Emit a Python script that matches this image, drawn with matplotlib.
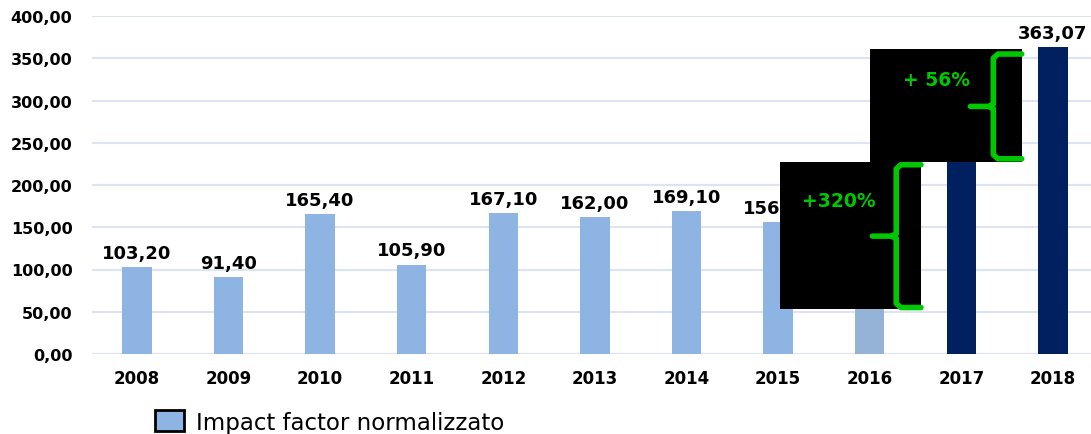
import matplotlib.pyplot as plt
from matplotlib.patches import Rectangle, Patch

years = ['2008', '2009', '2010', '2011', '2012', '2013', '2014', '2015', '2016', '2017', '2018']
values = [103.20, 91.40, 165.40, 105.90, 167.10, 162.00, 169.10, 156.30, 86.40, 232.70, 363.07]
colors = ['#8DB4E2'] * 8 + ['#95B3D7', '#002060', '#002060']
y_ticks = [0, 50, 100, 150, 200, 250, 300, 350, 400]

fig = plt.figure(figsize=(10.91, 4.35), dpi=100)
ax = fig.add_axes([92 / 1091, 80 / 435, 1003 / 1091, 338 / 435])

x = list(range(len(years)))
ax.bar(x, values, width=0.32, color=colors, zorder=2)

# value labels (comma decimals)
for xi, v in zip(x, values):
    ax.text(xi, v + 6, f'{v:.2f}'.replace('.', ','), ha='center', va='bottom',
            fontsize=13, fontweight='bold', zorder=3)

ax.set_xlim(-0.49, 10.46)
ax.set_ylim(0, 400)
ax.set_xticks(x)
ax.set_xticklabels(years, fontsize=12, fontweight='bold')
ax.set_yticks(y_ticks)
ax.set_yticklabels([f'{t:.2f}'.replace('.', ',') for t in y_ticks], fontsize=11.5, fontweight='bold')
ax.tick_params(length=0)
ax.tick_params(axis='x', pad=11)
ax.tick_params(axis='y', pad=14)
for s in ax.spines.values():
    s.set_visible(False)
ax.grid(axis='y', color='#DCE4F2', linewidth=1.5, zorder=0)
ax.axhline(0, color='#D9D9D9', linewidth=1.5, zorder=1)

# black callout boxes with green braces
green = '#00C800'
ax.add_patch(Rectangle((7.02, 53.3), 1.54, 173.9, facecolor='black', zorder=5))
ax.add_patch(Rectangle((8.0, 227.2), 1.66, 134.0, facecolor='black', zorder=5))


def brace(xv, xr, xt, y0, y1):
    ym = (y0 + y1) / 2
    kw = dict(color=green, linewidth=4, zorder=6, solid_capstyle='round')
    ax.plot([xr, xv + 0.05, xv, xv], [y1, y1, y1 - 5, ym + 3], **kw)
    ax.plot([xr, xv + 0.05, xv, xv], [y0, y0, y0 + 5, ym - 3], **kw)
    ax.plot([xt, xv - 0.05, xv], [ym, ym, ym + 3], **kw)
    ax.plot([xv - 0.05, xv], [ym, ym - 3], **kw)


brace(8.29, 8.56, 8.03, 55, 224)
brace(9.35, 9.66, 9.1, 231, 355)

ax.text(7.66, 182, '+320%', color=green, fontsize=13.5, fontweight='bold', ha='center', va='center', zorder=7)
ax.text(8.73, 325, '+ 56%', color=green, fontsize=13.5, fontweight='bold', ha='center', va='center', zorder=7)

fig.legend(handles=[Patch(facecolor='#8DB4E2', edgecolor='black', linewidth=2)],
           labels=['Impact factor normalizzato'], loc='center left',
           bbox_to_anchor=(134 / 1091, 1 - 423 / 435), frameon=False,
           handlelength=1.3, handleheight=1.0, handletextpad=0.5,
           prop={'family': 'DejaVu Sans', 'size': 16.5})

fig.savefig('out.png', dpi=100)
